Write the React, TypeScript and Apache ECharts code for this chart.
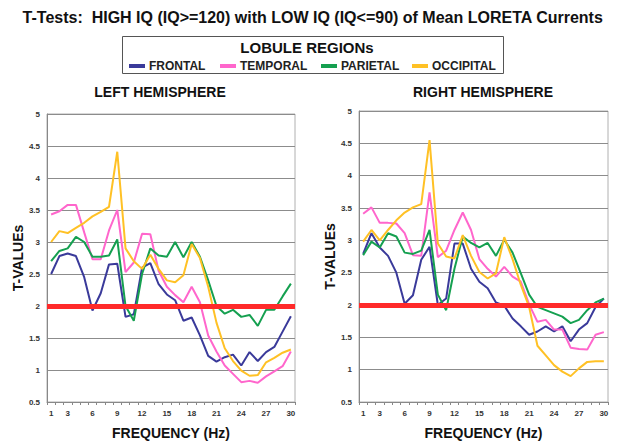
import React, { useEffect, useRef } from "react";
import * as echarts from "echarts";

const FREQUENCIES = ["1","2","3","4","5","6","7","8","9","10","11","12","13","14","15","16","17","18","19","20","21","22","23","24","25","26","27","28","29","30"];
const SHOWN_TICKS = ["1","3","6","9","12","15","18","21","24","27","30"];
const Y_MIN = 0.5;
const Y_MAX = 5;
const Y_STEP = 0.5;
const THRESHOLD = 2;

const REGIONS = ["FRONTAL", "TEMPORAL", "PARIETAL", "OCCIPITAL"];
const COLORS = ["#3a3a9a", "#ff66cc", "#15a050", "#ffc125"];

const LEFT_FRONTAL = [2.5, 2.78, 2.82, 2.78, 2.45, 1.93, 2.2, 2.65, 2.66, 1.83, 1.87, 2.6, 2.67, 2.34, 2.18, 2.09, 1.77, 1.82, 1.54, 1.22, 1.13, 1.2, 1.24, 1.07, 1.28, 1.14, 1.28, 1.36, 1.6, 1.84];
const LEFT_TEMPORAL = [3.43, 3.48, 3.58, 3.58, 3.15, 2.73, 2.73, 3.18, 3.5, 2.53, 2.68, 3.13, 3.12, 2.55, 2.3, 2.17, 2.06, 2.3, 2.06, 1.54, 1.29, 1.07, 0.94, 0.81, 0.83, 0.8, 0.9, 0.98, 1.06, 1.29];
const LEFT_PARIETAL = [2.7, 2.86, 2.9, 3.08, 3.0, 2.77, 2.77, 2.79, 3.04, 2.0, 1.77, 2.5, 2.9, 2.79, 2.77, 3.0, 2.76, 3.0, 2.77, 2.4, 2.0, 1.88, 1.94, 1.83, 1.86, 1.69, 1.94, 1.94, 2.15, 2.35];
const LEFT_OCCIPITAL = [3.0, 3.17, 3.14, 3.22, 3.3, 3.4, 3.47, 3.55, 4.41, 2.9, 2.7, 2.58, 2.8, 2.58, 2.4, 2.37, 2.48, 2.97, 2.75, 2.3, 1.74, 1.34, 1.14, 0.99, 0.91, 0.92, 1.12, 1.19, 1.27, 1.32];

const RIGHT_FRONTAL = [2.79, 3.11, 2.89, 2.76, 2.5, 2.02, 2.15, 2.7, 2.9, 2.0, 2.1, 2.95, 2.95, 2.56, 2.36, 2.26, 2.04, 1.99, 1.79, 1.67, 1.54, 1.59, 1.67, 1.59, 1.67, 1.44, 1.62, 1.72, 1.97, 2.1];
const RIGHT_TEMPORAL = [3.41, 3.51, 3.27, 3.27, 3.26, 3.11, 2.77, 2.76, 3.74, 2.74, 2.84, 3.16, 3.43, 3.16, 2.71, 2.56, 2.44, 2.59, 2.44, 2.36, 2.01, 1.74, 1.77, 1.62, 1.62, 1.34, 1.32, 1.31, 1.54, 1.58];
const RIGHT_PARIETAL = [2.77, 2.98, 2.89, 3.11, 3.06, 2.81, 2.79, 2.84, 3.16, 2.16, 1.92, 2.56, 3.06, 2.96, 2.89, 2.96, 2.76, 3.01, 2.81, 2.49, 2.16, 1.97, 1.92, 1.87, 1.82, 1.72, 1.77, 1.92, 2.04, 2.1];
const RIGHT_OCCIPITAL = [2.98, 3.16, 3.0, 3.16, 3.31, 3.43, 3.51, 3.56, 4.55, 2.95, 2.75, 2.72, 3.08, 2.76, 2.51, 2.41, 2.49, 3.05, 2.71, 2.31, 1.97, 1.37, 1.22, 1.07, 0.97, 0.9, 1.02, 1.12, 1.13, 1.13];

const TITLE = "T-Tests:  HIGH IQ (IQ>=120) with LOW IQ (IQ<=90) of Mean LORETA Currents";
const LEGEND_TITLE = "LOBULE REGIONs";
const PANEL_TITLES = ["LEFT HEMISPHERE", "RIGHT HEMISPHERE"];
const X_NAME = "FREQUENCY (Hz)";
const Y_NAME = "T-VALUEs";

const FONT = "Arial, 'Liberation Sans', sans-serif";

export default function App() {
  const ref = useRef<HTMLDivElement>(null);
  useEffect(() => {
    if (!ref.current) return;
    const chart = echarts.init(ref.current, null, { renderer: "svg" });
    const hemis = [
      [LEFT_FRONTAL, LEFT_TEMPORAL, LEFT_PARIETAL, LEFT_OCCIPITAL],
      [RIGHT_FRONTAL, RIGHT_TEMPORAL, RIGHT_PARIETAL, RIGHT_OCCIPITAL],
    ];
    const grids = [
      { left: 47, right: 331, top: 114, bottom: 33 },
      { left: 359, right: 18, top: 111, bottom: 33 },
    ];
    const series: any[] = [];
    hemis.forEach((sets, h) => {
      sets.forEach((vals, r) => {
        const s: any = {
          type: "line",
          name: REGIONS[r],
          xAxisIndex: h,
          yAxisIndex: h,
          data: vals,
          symbol: "none",
          lineStyle: { width: 2, color: COLORS[r] },
          itemStyle: { color: COLORS[r] },
          z: 3,
        };
        if (r === 0) {
          s.markLine = {
            silent: true,
            symbol: ["none", "none"],
            label: { show: false },
            lineStyle: { color: "#ff2a2a", width: 5, type: "solid" },
            data: [{ yAxis: THRESHOLD }],
          };
        }
        series.push(s);
      });
    });
    const option: any = {
      animation: false,
      backgroundColor: "#ffffff",
      textStyle: { fontFamily: FONT },
      grid: grids.map((g) => ({ ...g, show: true, borderColor: "#b0b0b0", borderWidth: 1, backgroundColor: "transparent" })),
      xAxis: [0, 1].map((h) => ({
        type: "category",
        gridIndex: h,
        data: FREQUENCIES,
        boundaryGap: true,
        name: X_NAME,
        nameLocation: "middle",
        nameGap: 24,
        nameTextStyle: { fontSize: 14, fontWeight: "bold", color: "#111", fontFamily: FONT },
        axisLine: { lineStyle: { color: "#888" } },
        axisTick: { show: true, interval: 0, length: 3, lineStyle: { color: "#888" } },
        axisLabel: {
          interval: (_i: number, v: string) => SHOWN_TICKS.includes(v),
          fontSize: 8,
          fontWeight: "bold",
          color: "#333",
          margin: 7,
        },
        splitLine: { show: false },
      })),
      yAxis: [0, 1].map((h) => ({
        type: "value",
        gridIndex: h,
        min: Y_MIN,
        max: Y_MAX,
        interval: Y_STEP,
        name: Y_NAME,
        nameLocation: "middle",
        nameRotate: 90,
        nameGap: 20,
        nameTextStyle: { fontSize: 14, fontWeight: "bold", color: "#111", fontFamily: FONT },
        axisLine: { show: true, lineStyle: { color: "#888" } },
        axisTick: { show: false },
        axisLabel: { fontSize: 8, fontWeight: "bold", color: "#333", margin: 7 },
        splitLine: { show: true, lineStyle: { color: "#8c8c8c", width: 1 } },
      })),
      legend: REGIONS.map((name, i) => ({
        data: [name],
        left: [129, 220, 321, 412][i],
        top: 60,
        padding: 0,
        icon: "rect",
        itemWidth: 16,
        itemHeight: 4,
        selectedMode: false,
        textStyle: { fontSize: 12, fontWeight: "bold", color: "#222", fontFamily: FONT, padding: [0, 0, 0, -1] },
      })),
      graphic: [
        {
          type: "text",
          left: "center",
          top: 9,
          style: { text: TITLE, font: `bold 16px ${FONT}`, fill: "#111" },
        },
        {
          type: "rect",
          shape: { x: 122.5, y: 36.5, width: 381, height: 37 },
          style: { fill: "none", stroke: "#555", lineWidth: 1 },
        },
        {
          type: "text",
          x: 307,
          y: 47,
          style: { text: LEGEND_TITLE, font: `bold 15px ${FONT}`, fill: "#111", align: "center", verticalAlign: "middle" },
        },
        {
          type: "text",
          x: 160,
          y: 92,
          style: { text: PANEL_TITLES[0], font: `bold 14px ${FONT}`, fill: "#111", align: "center", verticalAlign: "middle" },
        },
        {
          type: "text",
          x: 483,
          y: 92,
          style: { text: PANEL_TITLES[1], font: `bold 14px ${FONT}`, fill: "#111", align: "center", verticalAlign: "middle" },
        },
      ],
      series,
    };
    chart.setOption(option);
    return () => chart.dispose();
  }, []);
  return (
    <div
      ref={ref}
      style={{ position: "fixed", left: 0, top: 0, width: 626, height: 445, background: "#fff" }}
    />
  );
}
